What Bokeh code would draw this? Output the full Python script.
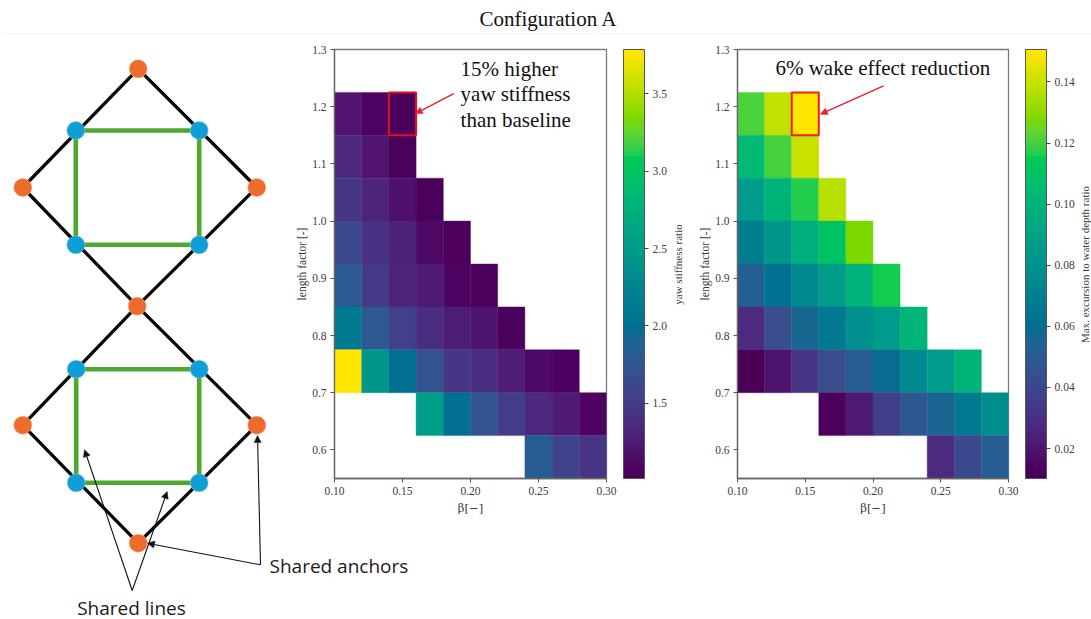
import math
from bokeh.plotting import figure
from bokeh.layouts import row
from bokeh.embed import file_html
from bokeh.resources import INLINE
from bokeh.models import (Range1d, LinearColorMapper, ColorBar, FixedTicker, NumeralTickFormatter,
                          Label, Arrow, NormalHead, ColumnDataSource)
from bokeh.palettes import Viridis256

# ---------- data ----------
beta_centres = [0.11, 0.13, 0.15, 0.17, 0.19, 0.21, 0.23, 0.25, 0.27, 0.29]
length_centres = [1.1875, 1.1125, 1.0375, 0.9625, 0.8875, 0.8125, 0.7375, 0.6625, 0.5875]
N = None
yaw_stiffness = [
    [1.20, 1.10, 1.05, N, N, N, N, N, N, N],
    [1.35, 1.20, 1.06, N, N, N, N, N, N, N],
    [1.46, 1.32, 1.17, 1.04, N, N, N, N, N, N],
    [1.60, 1.41, 1.30, 1.13, 1.05, N, N, N, N, N],
    [1.79, 1.49, 1.32, 1.24, 1.10, 1.05, N, N, N, N],
    [2.12, 1.77, 1.54, 1.38, 1.27, 1.19, 1.06, N, N, N],
    [3.78, 2.45, 2.00, 1.71, 1.46, 1.38, 1.27, 1.13, 1.08, N],
    [N, N, N, 2.54, 2.00, 1.74, 1.52, 1.35, 1.24, 1.09],
    [N, N, N, N, N, N, N, 1.82, 1.57, 1.43],
]
excursion = [
    [0.121, 0.139, 0.1506, N, N, N, N, N, N, N],
    [0.103, 0.120, 0.140, N, N, N, N, N, N, N],
    [0.085, 0.100, 0.117, 0.137, N, N, N, N, N, N],
    [0.069, 0.083, 0.097, 0.110, 0.128, N, N, N, N, N],
    [0.052, 0.062, 0.075, 0.086, 0.099, 0.116, N, N, N, N],
    [0.028, 0.043, 0.056, 0.066, 0.079, 0.085, 0.101, N, N, N],
    [0.0105, 0.019, 0.033, 0.043, 0.051, 0.058, 0.075, 0.085, 0.100, N],
    [N, N, N, 0.012, 0.022, 0.036, 0.048, 0.055, 0.066, 0.078],
    [N, N, N, N, N, N, N, 0.028, 0.041, 0.051],
]
x_ticks = [0.10, 0.15, 0.20, 0.25, 0.30]
y_ticks = [0.6, 0.7, 0.8, 0.9, 1.0, 1.1, 1.2, 1.3]
yaw_ticks = [1.5, 2.0, 2.5, 3.0, 3.5]
exc_ticks = [0.02, 0.04, 0.06, 0.08, 0.10, 0.12, 0.14]

# diagram nodes, in page pixels of the reference picture
anchors_x = [137.7, 22.3, 256.3, 136.7, 22.3, 256.3, 137.7]
anchors_y = [68.3, 187, 187, 305.7, 424.7, 424.7, 542.7]
fairleads_x = [75.3, 198.7, 75.3, 198.7, 75.7, 198.7, 75.7, 198.7]
fairleads_y = [130, 130, 244.3, 244.3, 368.7, 368.7, 482.3, 482.3]
mooring_pairs = [(0, 1), (0, 2), (1, 3), (2, 3), (3, 4), (3, 5), (4, 6), (5, 6)]
pontoon_pairs = [(0, 1), (1, 3), (3, 2), (2, 0), (4, 5), (5, 7), (7, 6), (6, 4)]
callouts = [
    (131.7, 590, 84, 449.3), (131.7, 590, 166.7, 491),
    (260, 564.3, 147, 542.7), (260, 564.3, 257, 435),
]

SERIF = "Liberation Serif"
INK = "#3a3a3a"
PAGE_W, PAGE_H = 1091, 619


def _lin(c):
    c /= 255
    return c / 12.92 if c <= 0.04045 else ((c + 0.055) / 1.055) ** 2.4


def _gam(c):
    c = max(0.0, min(1.0, c))
    return round(255 * (12.92 * c if c <= 0.0031308 else 1.055 * c ** (1 / 2.4) - 0.055))


def wide_gamut(hex_color):
    """The reference shows viridis with the more saturated look of a wide-gamut screenshot."""
    r, g, b = (_lin(int(hex_color[i:i + 2], 16)) for i in (1, 3, 5))
    return "#%02x%02x%02x" % (_gam(1.2249 * r - 0.2247 * g),
                              _gam(-0.0420 * r + 1.0419 * g),
                              _gam(-0.0197 * r - 0.0786 * g + 1.0979 * b))


PALETTE = [wide_gamut(c) for c in Viridis256]

# ---------- background figure: title and mooring diagram ----------
bg = figure(width=PAGE_W, height=PAGE_H, output_backend="svg", toolbar_location=None,
            x_range=Range1d(0, PAGE_W), y_range=Range1d(PAGE_H, 0), frame_align=False,
            min_border=0, outline_line_color=None, x_axis_type=None, y_axis_type=None)
bg.grid.visible = False

bg.line([0, PAGE_W], [33, 33], line_color="#f3f3f3", line_width=1.5)

for a, b in mooring_pairs:
    bg.line([anchors_x[a], anchors_x[b]], [anchors_y[a], anchors_y[b]],
            line_color="#050505", line_width=3.3)
for a, b in pontoon_pairs:
    bg.line([fairleads_x[a], fairleads_x[b]], [fairleads_y[a], fairleads_y[b]],
            line_color="#4ea72e", line_width=4.6)
bg.scatter(anchors_x, anchors_y, size=18, fill_color="#ee6c2b", line_color="#f4a57c", line_width=0.6)
bg.scatter(fairleads_x, fairleads_y, size=18, fill_color="#0f9ed5", line_color="#7cc8e6", line_width=0.6)

for x0, y0, x1, y1 in callouts:
    bg.add_layout(Arrow(end=NormalHead(size=7, fill_color="#111111", line_color="#111111", line_width=0.5),
                        x_start=x0, y_start=y0, x_end=x1, y_end=y1,
                        line_color="#111111", line_width=1.1))

mid = dict(text_baseline="middle")
bg.add_layout(Label(x=548, y=18, text="Configuration A", text_font=SERIF, text_font_size="21px",
                    text_align="center", text_color="#111111", **mid))
bg.add_layout(Label(x=269, y=565, text="Shared anchors", text_font="Open Sans", text_font_size="19px",
                    text_align="left", text_color="#1a1a1a", **mid))
bg.add_layout(Label(x=131, y=607, text="Shared lines", text_font="Open Sans", text_font_size="19px",
                    text_align="center", text_color="#1a1a1a", **mid))
bg.add_layout(Label(x=677, y=264, text="yaw stiffness ratio", angle=math.pi / 2, text_font=SERIF,
                    text_font_size="11px", text_align="center", text_color=INK, **mid))
bg.add_layout(Label(x=1084, y=264, text="Max. excursion to water depth ratio", angle=math.pi / 2, text_font=SERIF,
                    text_font_size="11px", text_align="center", text_color=INK, **mid))


# ---------- heat maps ----------
def heat(values, ticks, vmin, vmax, fmt, frame_w, right_border, box_color, margin_left, notes, arrow):
    xs, ys, vs = [], [], []
    for yv, line in zip(length_centres, values):
        for xv, v in zip(beta_centres, line):
            if v is not None:
                xs.append(xv)
                ys.append(yv)
                vs.append(v)
    mapper = LinearColorMapper(palette=PALETTE, low=vmin, high=vmax)
    p = figure(frame_width=frame_w, frame_height=429, output_backend="svg", toolbar_location=None,
               x_range=Range1d(0.10, 0.30), y_range=Range1d(0.55, 1.30), frame_align=False,
               min_border_left=44, min_border_top=49, min_border_bottom=46, min_border_right=right_border,
               margin=(0, 0, 0, margin_left), align="start",
               background_fill_alpha=0, border_fill_alpha=0,
               outline_line_color="#7a7a7a", outline_line_width=1.3)
    p.grid.visible = False
    src = ColumnDataSource(dict(x=xs, y=ys, v=vs))
    tr = {"field": "v", "transform": mapper}
    p.rect("x", "y", width=0.02, height=0.075, source=src, fill_color=tr, line_color=tr, line_width=0.4)
    p.rect([beta_centres[2]], [length_centres[0]], width=0.02, height=0.075,
           fill_color=None, line_color=box_color, line_width=2)

    for ax in (p.xaxis[0], p.yaxis[0]):
        ax.axis_line_color = "#666666"
        ax.axis_line_width = 1.3
        ax.major_tick_line_color = "#555555"
        ax.major_tick_out = 4
        ax.major_tick_in = 0
        ax.minor_tick_line_color = None
        ax.major_label_text_font = SERIF
        ax.major_label_text_font_size = "11.5px"
        ax.major_label_text_color = INK
        ax.major_label_standoff = 4
        ax.axis_label_text_font = SERIF
        ax.axis_label_text_font_size = "11.5px"
        ax.axis_label_text_font_style = "normal"
        ax.axis_label_text_color = INK
    p.xaxis[0].ticker = FixedTicker(ticks=x_ticks)
    p.xaxis[0].formatter = NumeralTickFormatter(format="0.00")
    p.yaxis[0].ticker = FixedTicker(ticks=y_ticks)
    p.yaxis[0].formatter = NumeralTickFormatter(format="0.0")
    p.xaxis[0].axis_label = "β[−]"
    p.xaxis[0].axis_label_standoff = 3
    p.xaxis[0].axis_label_text_font = "DejaVu Serif"
    p.yaxis[0].axis_label = "length factor [-]"
    p.yaxis[0].axis_label_standoff = 1

    cb = ColorBar(color_mapper=mapper, ticker=FixedTicker(ticks=ticks),
                  formatter=NumeralTickFormatter(format=fmt), width=21, height=429,
                  location=(17, 0), padding=0,
                  major_tick_in=0, major_tick_out=4, major_tick_line_color="#444444",
                  minor_tick_line_color=None, bar_line_color="#555555", bar_line_width=1,
                  major_label_text_font=SERIF, major_label_text_font_size="11.5px",
                  major_label_text_color=INK, label_standoff=4)
    p.add_layout(cb, "right")

    for nx, ny, txt, size in notes:
        p.add_layout(Label(x=nx, y=ny, text=txt, text_font=SERIF, text_font_size=size,
                           text_align="left", text_baseline="middle", text_color="#111111"))
    p.add_layout(Arrow(end=NormalHead(size=7, fill_color="#e8202a", line_color="#e8202a", line_width=0.5),
                       x_start=arrow[0], y_start=arrow[1], x_end=arrow[2], y_end=arrow[3],
                       line_color="#e8202a", line_width=1.4))
    return p


h1 = heat(yaw_stiffness, yaw_ticks, 1.016, 3.784, "0.0", 272, 84, "#e0101c", -801,
          [(0.1927, 1.2656, "15% higher", "21px"), (0.1927, 1.2219, "yaw stiffness", "21px"),
           (0.1927, 1.1764, "than baseline", "21px")],
          (0.1877, 1.223, 0.1595, 1.188))
h2 = heat(excursion, exc_ticks, 0.0102, 0.1506, "0.00", 271, 83, "#f0201a", 3,
          [(0.128, 1.2668, "6% wake effect reduction", "21px")],
          (0.2078, 1.2364, 0.1612, 1.1869))

page = row(bg, h1, h2)
open("out.html", "w").write(file_html(page, INLINE))
